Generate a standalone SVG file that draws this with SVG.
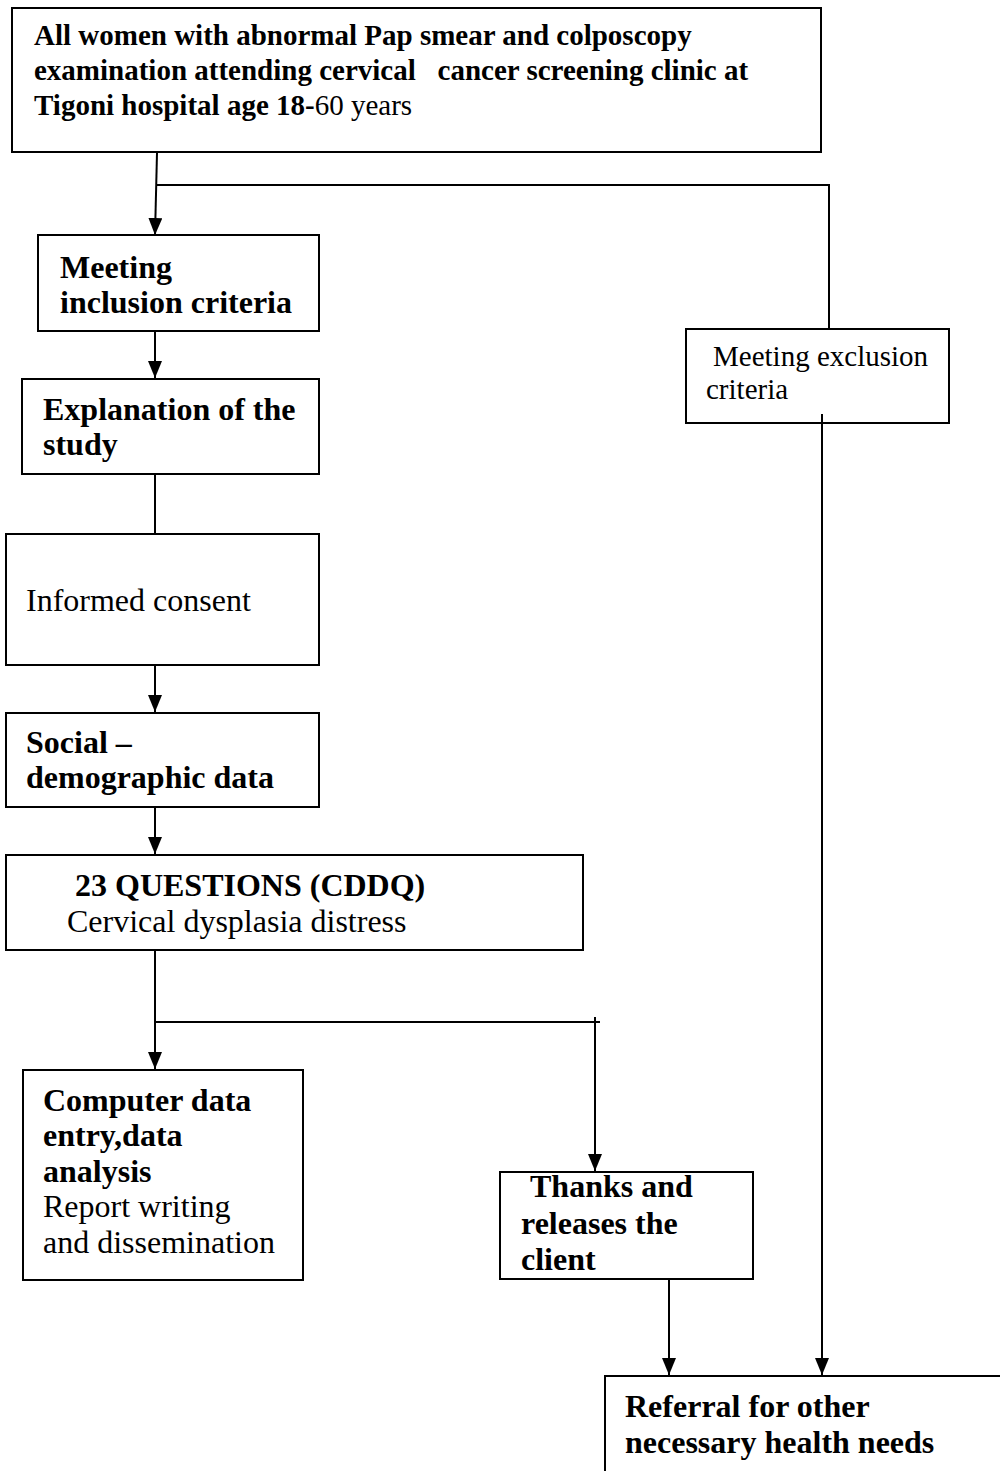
<svg xmlns="http://www.w3.org/2000/svg" width="1000" height="1471" viewBox="0 0 1000 1471">
<style>
  .box { fill: #fff; stroke: #000; stroke-width: 2; }
  .t { font-family: "Liberation Serif", "Times New Roman", serif; fill: #000; white-space: pre; }
  .b { font-weight: bold; }
  .s29 { font-size: 29px; }
  .s32 { font-size: 32px; }
  .n { font-weight: normal; }
  .c { fill: none; stroke: #000; stroke-width: 2; }
</style>
<defs>
  <marker id="ah" markerUnits="userSpaceOnUse" markerWidth="17" markerHeight="14" refX="17" refY="7" orient="auto">
    <path d="M0,0 L17,7 L0,14 z" fill="#000"/>
  </marker>
</defs>
<rect width="1000" height="1471" fill="#fff"/>

<g id="n-start">
  <rect class="box" x="12" y="8" width="809" height="144"/>
  <text class="t b s29" x="34" y="45">All women with abnormal Pap smear and colposcopy</text>
  <text class="t b s29" x="34" y="80">examination attending cervical   cancer screening clinic at</text>
  <text class="t b s29" x="34" y="115">Tigoni hospital age 18-<tspan class="n">60 years</tspan></text>
</g>

<g id="n-inclusion">
  <rect class="box" x="38" y="235" width="281" height="96"/>
  <text class="t b s32" x="60" y="278">Meeting</text>
  <text class="t b s32" x="60" y="313">inclusion criteria</text>
</g>

<g id="n-exclusion">
  <rect class="box" x="686" y="329" width="263" height="94"/>
  <text class="t s29" x="713" y="366">Meeting exclusion</text>
  <text class="t s29" x="706" y="399">criteria</text>
</g>

<g id="n-explanation">
  <rect class="box" x="22" y="379" width="297" height="95"/>
  <text class="t b s32" x="43" y="420">Explanation of the</text>
  <text class="t b s32" x="43" y="455">study</text>
</g>

<g id="n-consent">
  <rect class="box" x="6" y="534" width="313" height="131"/>
  <text class="t s32" x="26" y="611">Informed consent</text>
</g>

<g id="n-social">
  <rect class="box" x="6" y="713" width="313" height="94"/>
  <text class="t b s32" x="26" y="753">Social –</text>
  <text class="t b s32" x="26" y="788">demographic data</text>
</g>

<g id="n-questions">
  <rect class="box" x="6" y="855" width="577" height="95"/>
  <text class="t b s32" x="75" y="896">23 QUESTIONS (CDDQ)</text>
  <text class="t s32" x="67" y="932">Cervical dysplasia distress</text>
</g>

<g id="n-computer">
  <rect class="box" x="23" y="1070" width="280" height="210"/>
  <text class="t b s32" x="43" y="1111">Computer data</text>
  <text class="t b s32" x="43" y="1146">entry,data</text>
  <text class="t b s32" x="43" y="1182">analysis</text>
  <text class="t s32" x="43" y="1217">Report writing</text>
  <text class="t s32" x="43" y="1253">and dissemination</text>
</g>

<g id="n-thanks">
  <rect class="box" x="500" y="1172" width="253" height="107"/>
  <text class="t b s32" x="530" y="1197">Thanks and</text>
  <text class="t b s32" x="521" y="1234">releases the</text>
  <text class="t b s32" x="521" y="1270">client</text>
</g>

<g id="n-referral">
  <rect class="box" x="605" y="1376" width="420" height="120"/>
  <text class="t b s32" x="625" y="1417">Referral for other</text>
  <text class="t b s32" x="625" y="1453">necessary health needs</text>
</g>

<g id="connectors">
  <line class="c" x1="157" y1="153" x2="155" y2="235" marker-end="url(#ah)"/>
  <polyline class="c" points="156,185 829,185 829,329"/>
  <line class="c" x1="155" y1="332" x2="155" y2="378" marker-end="url(#ah)"/>
  <line class="c" x1="155" y1="475" x2="155" y2="533"/>
  <line class="c" x1="155" y1="666" x2="155" y2="712" marker-end="url(#ah)"/>
  <line class="c" x1="155" y1="808" x2="155" y2="854" marker-end="url(#ah)"/>
  <line class="c" x1="155" y1="951" x2="155" y2="1069" marker-end="url(#ah)"/>
  <line class="c" x1="155" y1="1022" x2="600" y2="1022"/>
  <line class="c" x1="595" y1="1017" x2="595" y2="1171" marker-end="url(#ah)"/>
  <line class="c" x1="669" y1="1280" x2="669" y2="1375" marker-end="url(#ah)"/>
  <line class="c" x1="822" y1="414" x2="822" y2="1375" marker-end="url(#ah)"/>
</g>
</svg>
